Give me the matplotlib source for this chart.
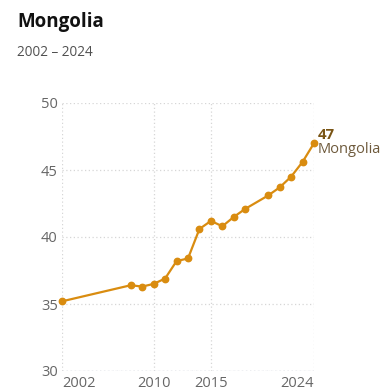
import matplotlib
matplotlib.use("Agg")
import matplotlib.pyplot as plt

# data
years = [2002, 2008, 2009, 2010, 2011, 2012, 2013, 2014, 2015, 2016,
         2017, 2018, 2020, 2021, 2022, 2023, 2024]
values = [35.2, 36.4, 36.3, 36.5, 36.9, 38.2, 38.4, 40.6, 41.2, 40.8,
          41.5, 42.1, 43.1, 43.7, 44.5, 45.6, 47.0]
x_ticks = [2002, 2010, 2015, 2024]
y_ticks = [30, 35, 40, 45, 50]
country = "Mongolia"
subtitle = "2002 – 2024"

line_color = "#d98c10"
plt.rcParams['font.family'] = ['Open Sans', 'DejaVu Sans']

fig = plt.figure(figsize=(3.9, 3.92), dpi=100)
ax = fig.add_axes([62/390, 21/392, 252/390, 268/392])

ax.plot(years, values, color=line_color, lw=1.6, marker='o', ms=4.6,
        clip_on=False, zorder=3)

ax.set_xlim(2002, 2024)
ax.set_ylim(30, 50)
ax.set_xticks(x_ticks)
ax.set_yticks(y_ticks)
ax.tick_params(length=0, labelsize=10.5, labelcolor="#666666")
ax.tick_params(axis='x', pad=3.5)
ax.tick_params(axis='y', pad=3)
xlabels = ax.get_xticklabels()
xlabels[0].set_ha('left')
xlabels[-1].set_ha('right')
ax.grid(True, color="#d6d6d6", lw=0.9, ls=(0, (1, 2)))
for s in ax.spines.values():
    s.set_visible(False)
ax.axhline(30, color="#b9c0cf", lw=1.0, ls=(0, (1, 2)), zorder=2)

ax.annotate(f"{values[-1]:.0f}", (years[-1], values[-1]), xytext=(2.5, 2.7),
            textcoords='offset points', fontsize=10.8, fontweight='bold',
            color="#7a5515", va='baseline', ha='left')
ax.annotate(country, (years[-1], values[-1]), xytext=(2.5, -6.9),
            textcoords='offset points', fontsize=10.5,
            color="#6e5a3c", va='baseline', ha='left')

fig.text(17/390, 1 - 22/392, country, fontsize=13.5, fontweight='bold',
         color="#111111", va='center', ha='left')
fig.text(17/390, 1 - 53/392, subtitle, fontsize=9.8, color="#505050",
         va='center', ha='left')

fig.savefig("out.png", dpi=100)
